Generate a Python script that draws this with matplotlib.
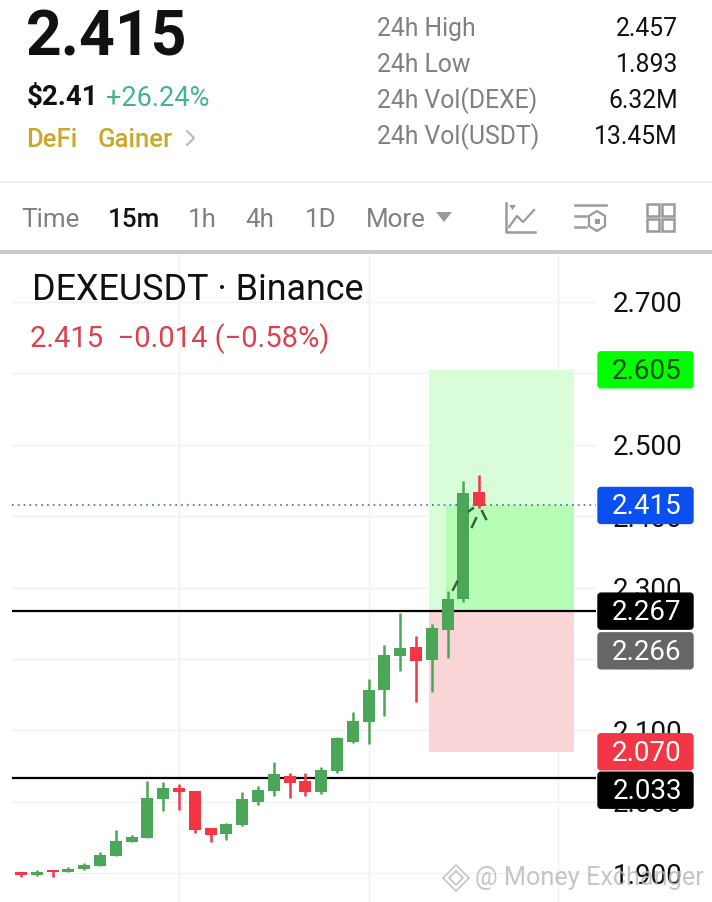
import matplotlib
matplotlib.use("Agg")
import matplotlib.pyplot as plt
from matplotlib.patches import FancyBboxPatch, Rectangle, Polygon

plt.rcParams["font.family"] = ["Roboto", "DejaVu Sans"]

W, H = 712, 902

# candles
opens = [1.901, 1.898, 1.904, 1.902, 1.906, 1.910, 1.924, 1.944, 1.949, 2.004,
         2.019, 2.015, 1.963, 1.955, 1.967, 2.000, 2.015, 2.036, 2.029, 2.014,
         2.043, 2.084, 2.112, 2.157, 2.204, 2.217, 2.199, 2.241, 2.284, 2.434]
highs = [1.902, 1.904, 1.904, 1.909, 1.914, 1.930, 1.960, 1.953, 2.029, 2.028,
         2.025, 2.015, 1.963, 1.970, 2.014, 2.022, 2.056, 2.040, 2.040, 2.049,
         2.091, 2.126, 2.172, 2.220, 2.264, 2.232, 2.249, 2.295, 2.449, 2.458]
lows = [1.895, 1.896, 1.895, 1.901, 1.904, 1.910, 1.924, 1.944, 1.949, 1.987,
        1.989, 1.956, 1.944, 1.946, 1.966, 1.996, 2.008, 2.005, 2.008, 2.011,
        2.040, 2.082, 2.081, 2.120, 2.183, 2.140, 2.154, 2.201, 2.280, 2.411]
closes = [1.898, 1.902, 1.901, 1.906, 1.912, 1.925, 1.945, 1.951, 2.005, 2.019,
          2.014, 1.960, 1.953, 1.969, 2.004, 2.017, 2.039, 2.026, 2.014, 2.045,
          2.089, 2.113, 2.157, 2.206, 2.215, 2.197, 2.243, 2.284, 2.432, 2.414]

y_ticks = [1.9, 2.0, 2.1, 2.2, 2.3, 2.4, 2.5, 2.6, 2.7]
x_grid = [10, 22, 34]
hlines = [2.267, 2.033]
last_price = 2.415
target = 2.605
entry = 2.267
stop = 2.070

# dashes of the drawing on top of the last candles (index, price)
dash_x = [[27.34, 27.6], [28.35, 28.6], [28.54, 28.8], [29.18, 29.43]]
dash_y = [[2.297, 2.308], [2.407, 2.411], [2.385, 2.397], [2.407, 2.396]]

tag_values = ["2.605", "2.415", "2.267", "2.266", "2.070", "2.033"]
tag_prices = [2.605, 2.415, 2.267, 2.266, 2.070, 2.033]
tag_colors = ["#00ff00", "#0a50f0", "#000000", "#666666", "#f23645", "#000000"]
tag_text = ["#0a4a0a", "#ffffff", "#ffffff", "#ffffff", "#ffffff", "#ffffff"]
tag_nudge = [0, 0, 0, 39, 0, 12]  # tags get pushed apart when they collide

stats_names = ["24h High", "24h Low", "24h Vol(DEXE)", "24h Vol(USDT)"]
stats_values = ["2.457", "1.893", "6.32M", "13.45M"]
tabs = ["Time", "15m", "1h", "4h", "1D", "More"]
tab_x = [21, 108, 188, 245, 305, 366]

GREEN = "#4ca657"
RED = "#f23645"
GREY = "#808080"

fig = plt.figure(figsize=(W / 100, H / 100), dpi=100)
fig.patch.set_facecolor("white")

# chart area runs from x=12 to x=596 and y=254 to the bottom edge
ax = fig.add_axes([12 / W, 0, 584 / W, (H - 254) / H])
ax.set_xlim(-0.57, 36.39)
ax.set_ylim(1.8596, 2.7672)
for s in ax.spines.values():
    s.set_visible(False)
ax.yaxis.tick_right()
ax.set_yticks(y_ticks)
ax.set_yticklabels([f"{v:.3f}" for v in y_ticks], fontsize=20, color="#111111")
ax.tick_params(axis="y", length=0, pad=12)
ax.set_xticks(x_grid)
ax.set_xticklabels([])
ax.tick_params(axis="x", length=0)
ax.grid(True, color="#f1f1f1", lw=1)
ax.set_axisbelow(True)

# position box
ax.add_patch(Rectangle((25.85, entry), 9.15, target - entry, color="#d8fdd8", lw=0, zorder=1))
ax.add_patch(Rectangle((26.9, entry), 8.1, last_price - entry, color="#b6fdb6", lw=0, zorder=1.1))
ax.add_patch(Rectangle((25.85, stop), 9.15, entry - stop, color="#fad5d8", lw=0, zorder=1))

for v in hlines:
    ax.axhline(v, color="black", lw=1.6, zorder=2)
ax.axhline(last_price, color="#3f6f9f", lw=1.2, ls=(0, (1, 2.5)), zorder=2)

for i in range(len(opens)):
    col = GREEN if closes[i] >= opens[i] else RED
    ax.plot([i, i], [lows[i], highs[i]], color=col, lw=1.8, zorder=3, solid_capstyle="butt")
    ax.add_patch(Rectangle((i - 0.38, min(opens[i], closes[i])), 0.76,
                           abs(closes[i] - opens[i]), color=col, lw=0, zorder=4))

for xs, ys in zip(dash_x, dash_y):
    ax.plot(xs, ys, color="#3c5c48", lw=1.8, zorder=5)

# overlay in pixel coordinates for the app header and the price tags
over = fig.add_axes([0, 0, 1, 1], facecolor="none")
over.set_xlim(0, W)
over.set_ylim(H, 0)
over.axis("off")

over.text(26, 38, "2.415", fontsize=45, fontweight="bold", color="#111111", va="center")
over.text(27, 98, "$2.41", fontsize=20, fontweight="bold", color="#111111", va="center")
over.text(106, 98, "+26.24%", fontsize=19.5, color="#45b38f", va="center")
over.text(26, 140, "DeFi", fontsize=18.5, fontweight="medium", color="#c9a82c", va="center")
over.text(98, 140, "Gainer", fontsize=18.5, fontweight="medium", color="#c9a82c", va="center")
over.plot([187, 194, 187], [131, 138, 145], color="#b5b5b5", lw=1.4)

for i in range(4):
    yy = 29 + i * 36
    over.text(377, yy, stats_names[i], fontsize=17.8, color=GREY, va="center")
    over.text(678, yy, stats_values[i], fontsize=17.8, color="#111111", ha="right", va="center")

over.plot([0, W], [182, 182], color="#ececec", lw=1.2)
over.add_patch(Rectangle((0, 250), W, 4, color="#c9c9c9", lw=0))

for name, x in zip(tabs, tab_x):
    active = name == "15m"
    over.text(x, 220, name, fontsize=18.7, color="#111111" if active else GREY,
              fontweight="medium" if active else "normal", va="center")
over.add_patch(Polygon([[436, 212], [452, 212], [444, 222]], color="#9a9a9a", lw=0))

# toolbar icons
IC = "#9a9a9a"
over.plot([506, 506, 535], [203, 232, 232], color=IC, lw=1.8)
over.plot([509, 517, 523, 534], [227, 216, 222, 210], color=IC, lw=1.6)
over.add_patch(Polygon([[509, 205], [516, 205], [512.5, 210]], color=IC, lw=0))
over.plot([575, 606], [205, 205], color=IC, lw=1.8)
over.plot([575, 586], [216, 216], color=IC, lw=1.8)
over.plot([575, 586], [227, 227], color=IC, lw=1.8)
over.add_patch(Polygon([[597, 211], [605, 216], [605, 226], [597, 231], [589, 226], [589, 216]],
                       fc="none", ec=IC, lw=1.6))
over.add_patch(Rectangle((594.5, 218.5), 5, 5, fc=IC, lw=0))
for gx in [647, 662]:
    for gy in [204, 219]:
        over.add_patch(Rectangle((gx, gy), 12, 12, fc="none", ec=IC, lw=1.8))

# chart legend
over.text(32, 290, "DEXEUSDT · Binance", fontsize=25.8, color="#111111", va="center")
over.text(30, 339, "2.415  −0.014 (−0.58%)", fontsize=21, color="#d8434f", va="center")


def price_px(v):
    return H - ax.transData.transform((0, v))[1]


for label, v, col, tcol, nudge in zip(tag_values, tag_prices, tag_colors, tag_text, tag_nudge):
    cy = price_px(v) + nudge
    over.add_patch(FancyBboxPatch((598, cy - 18), 95, 36, boxstyle="round,pad=0,rounding_size=3",
                                  fc=col, ec=col, lw=1, zorder=6))
    over.text(647, cy + 1.5, label, fontsize=20, color=tcol, ha="center", va="center", zorder=7)

# watermark
for d, lw in [(13, 1.2), (7, 1.2)]:
    over.add_patch(Polygon([[456, 878 - d], [456 + d, 878], [456, 878 + d], [456 - d, 878]],
                           fc="none", ec="#c4c4c4", lw=lw, zorder=8))
over.text(475, 878, "@ Money Exchanger", fontsize=18.2, color="#b8b8b8", alpha=0.8,
          va="center", zorder=8)

fig.savefig("out.png", dpi=100)
